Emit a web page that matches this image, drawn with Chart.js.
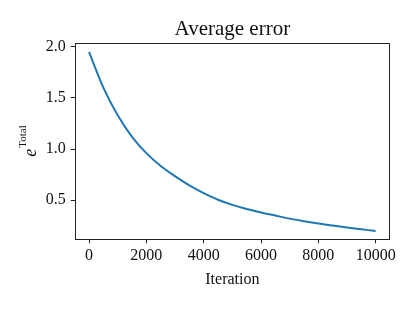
<!DOCTYPE html>
<html>
<head>
<meta charset="utf-8">
<script src="https://cdn.jsdelivr.net/npm/chart.js@4.4.1/dist/chart.umd.min.js"></script>
<style>
  html, body { margin: 0; padding: 0; background: #fff; }
</style>
</head>
<body>
<canvas id="GraficoError" width="415" height="312"></canvas>
<script>
// datos
var iteraciones = [0, 500, 1000, 1500, 2000, 2500, 3000, 3500, 4000, 4500, 5000,
                   5500, 6000, 6500, 7000, 7500, 8000, 8500, 9000, 9500, 10000];
var errores = [1.95, 1.60, 1.33, 1.12, 0.96, 0.835, 0.735, 0.645, 0.57, 0.505, 0.455,
               0.415, 0.38, 0.35, 0.32, 0.295, 0.272, 0.252, 0.233, 0.216, 0.199];
var ticksX = [0, 2000, 4000, 6000, 8000, 10000];
var ticksY = [0.5, 1.0, 1.5, 2.0];

var fuente = "'Liberation Serif', 'DejaVu Serif', serif";
var colorEje = '#222';

// marco alrededor del area del grafico + titulo del eje y con superindice
var marco = {
  id: 'marco',
  afterDraw: function (chart) {
    var ctx = chart.ctx;
    var ca = chart.chartArea;
    ctx.save();
    ctx.strokeStyle = colorEje;
    ctx.lineWidth = 1;
    ctx.strokeRect(Math.round(ca.left) + 0.5, Math.round(ca.top) + 0.5,
                   Math.round(ca.right - ca.left) - 1, Math.round(ca.bottom - ca.top) - 1);

    // e^Total
    ctx.translate(31, (ca.top + ca.bottom) / 2);
    ctx.rotate(-Math.PI / 2);
    ctx.fillStyle = '#111';
    ctx.textBaseline = 'middle';
    ctx.font = "italic 18px " + fuente;
    var wE = ctx.measureText('e').width;
    ctx.font = "11px " + fuente;
    var wT = ctx.measureText('Total').width;
    var inicio = -(wE + wT + 1) / 2;
    ctx.font = "italic 18px " + fuente;
    ctx.fillText('e', inicio, 0);
    ctx.font = "11px " + fuente;
    ctx.fillText('Total', inicio + wE + 1, -8);
    ctx.restore();
  }
};

var ctx1 = document.getElementById('GraficoError').getContext('2d');
var data1 = {
  datasets: [{
    label: 'Average error',
    data: iteraciones.map(function (x, i) { return { x: x, y: errores[i] }; }),
    borderColor: '#1f77b4',
    borderWidth: 2,
    pointRadius: 0,
    fill: false,
    cubicInterpolationMode: 'monotone'
  }]
};
var options1 = {
  responsive: false,
  animation: false,
  devicePixelRatio: 1,
  layout: { padding: { left: 0, right: 25, top: 0, bottom: 0 } },
  plugins: {
    legend: { display: false },
    tooltip: { enabled: false },
    title: {
      display: true,
      text: 'Average error',
      fullSize: false,
      color: '#111',
      font: { family: fuente, size: 21, weight: 'normal', lineHeight: 1.2 },
      padding: { top: 17, bottom: 0.5 }
    }
  },
  scales: {
    x: {
      type: 'linear',
      min: -500,
      max: 10500,
      afterBuildTicks: function (s) { s.ticks = ticksX.map(function (v) { return { value: v }; }); },
      afterFit: function (s) { s.height = 72.7; },
      border: { display: false },
      grid: { drawOnChartArea: false, drawTicks: true, tickLength: 4, color: colorEje, lineWidth: 1 },
      ticks: {
        color: '#111',
        padding: 3,
        maxRotation: 0,
        font: { family: fuente, size: 16 },
        callback: function (v) { return String(v); }
      },
      title: {
        display: true,
        text: 'Iteration',
        color: '#111',
        font: { family: fuente, size: 16 },
        padding: { top: 0, bottom: 23 }
      }
    },
    y: {
      type: 'linear',
      min: 0.118,
      max: 2.04,
      afterBuildTicks: function (s) { s.ticks = ticksY.map(function (v) { return { value: v }; }); },
      afterFit: function (s) { s.width = 74.7; },
      border: { display: false },
      grid: { drawOnChartArea: false, drawTicks: true, tickLength: 4, color: colorEje, lineWidth: 1 },
      ticks: {
        color: '#111',
        padding: 5,
        font: { family: fuente, size: 16 },
        callback: function (v) { return Number(v).toFixed(1); }
      }
    }
  }
};
var GraficoError = new Chart(ctx1, {
  type: 'line',
  data: data1,
  options: options1,
  plugins: [marco]
});
</script>
</body>
</html>
